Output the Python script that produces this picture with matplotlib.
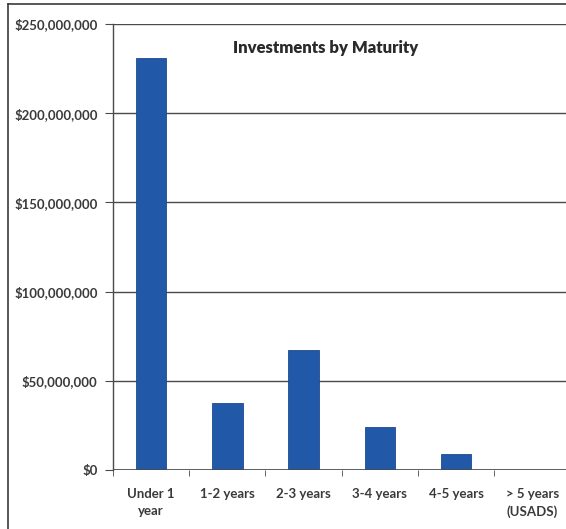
import matplotlib
matplotlib.use("Agg")
import matplotlib.pyplot as plt
from matplotlib.ticker import FuncFormatter

# data
categories = ["Under 1\nyear", "1-2 years", "2-3 years", "3-4 years", "4-5 years", "> 5 years\n(USADS)"]
amounts = [231000000, 37500000, 67500000, 24000000, 9000000, 0]
yticks = [0, 50000000, 100000000, 150000000, 200000000, 250000000]

bar_color = "#2258a8"
grid_color = "#4a4a4a"
text_color = "#3a3a3a"

plt.rcParams["font.family"] = ["Lato", "DejaVu Sans"]

fig = plt.figure(figsize=(5.66, 5.29), dpi=100)
ax = fig.add_axes([0.1996, 0.1115, 0.808, 0.8431])

x = list(range(len(categories)))
ax.bar(x, amounts, width=0.4, color=bar_color, edgecolor="#1b4a90", linewidth=0.6, zorder=3)

ax.set_xlim(-0.5, len(categories) - 0.5)
ax.set_ylim(0, 250000000)
ax.set_yticks(yticks)
ax.yaxis.set_major_formatter(FuncFormatter(lambda v, p: "${:,.0f}".format(v)))
ax.grid(axis="y", color=grid_color, linewidth=1.0, zorder=1)

ax.set_xticks(x)
ax.set_xticklabels(categories, fontsize=9.5, fontweight="bold", color=text_color, linespacing=1.45)
ax.set_xticks([i + 0.5 for i in range(-1, len(categories))], minor=True)
ax.tick_params(axis="x", which="major", length=0, pad=13)
ax.tick_params(axis="x", which="minor", length=4, color=grid_color, direction="out")
ax.tick_params(axis="y", length=6, color=grid_color, labelsize=9.5, labelcolor=text_color, pad=5)
for lbl in ax.get_yticklabels():
    lbl.set_fontweight("bold")

for side in ["top", "right", "bottom"]:
    ax.spines[side].set_visible(False)
ax.spines["left"].set_color(grid_color)
ax.spines["left"].set_linewidth(1.0)
ax.axhline(0, color=grid_color, linewidth=1.2, zorder=4)

ax.text(0.465, 0.947, "Investments by Maturity", transform=ax.transAxes, ha="center", va="center",
        fontsize=12, fontweight="heavy", color="#2a2a2a")

# outer chart border
fig.add_artist(plt.Line2D([8 / 566, 8 / 566], [0, 1 - 4 / 529], color="#3a3a3a", linewidth=1.2))
fig.add_artist(plt.Line2D([8 / 566, 1], [1 - 4 / 529, 1 - 4 / 529], color="#3a3a3a", linewidth=1.2))

fig.savefig("out.png", dpi=100)
